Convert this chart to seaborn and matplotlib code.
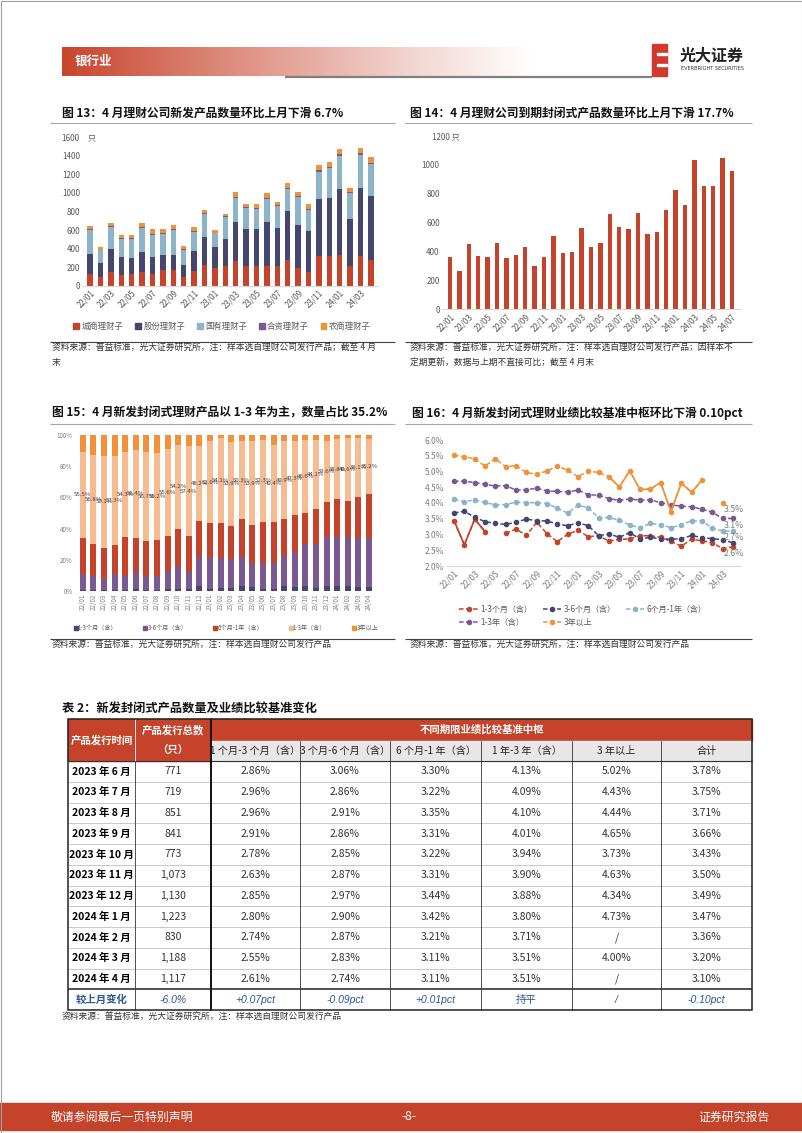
import numpy as np
import matplotlib
matplotlib.use('Agg')
import matplotlib.pyplot as plt
import seaborn as sns
from matplotlib.patches import Rectangle
from matplotlib.lines import Line2D
from matplotlib.colors import to_rgb

sns.set_theme(style='white')
plt.rcParams['font.family'] = ['Noto Sans CJK SC', 'DejaVu Sans']
plt.rcParams['axes.unicode_minus'] = False

W, H = 802, 1133

RED = '#C5432A'
NAVY = '#44466E'
BLUE = '#8DB3C7'
PURPLE = '#7A5891'
ORANGE = '#F0923B'
PEACH = '#F6BC91'
TXT = '#595959'

# ---------------- data ----------------
months28 = ['22/01', '22/02', '22/03', '22/04', '22/05', '22/06', '22/07', '22/08', '22/09', '22/10',
            '22/11', '22/12', '23/01', '23/02', '23/03', '23/04', '23/05', '23/06', '23/07', '23/08',
            '23/09', '23/10', '23/11', '23/12', '24/01', '24/02', '24/03', '24/04']
months31 = months28 + ['24/05', '24/06', '24/07']

# fig 13: new products by issuer type
issuer_names = ['城商理财子', '股份理财子', '国有理财子', '合资理财子', '农商理财子']
city = [126, 97, 151, 115, 122, 148, 130, 169, 169, 90, 158, 223, 187, 216, 263, 212, 212, 216, 216, 277,
        187, 151, 320, 320, 331, 212, 320, 274]
joint = [212, 144, 245, 198, 180, 219, 183, 166, 166, 130, 216, 306, 234, 284, 428, 396, 396, 475, 410, 533,
         468, 443, 620, 630, 713, 504, 731, 694]
state = [263, 144, 234, 187, 202, 252, 234, 219, 266, 165, 209, 241, 144, 238, 252, 227, 220, 241, 234, 230,
         299, 223, 291, 314, 356, 281, 360, 342]
jv = [15, 5, 14, 10, 10, 12, 14, 12, 14, 6, 12, 10, 8, 10, 14, 12, 12, 14, 10, 18, 14, 14, 16, 18, 20, 14, 22, 18]
rural = [28, 31, 36, 37, 33, 42, 47, 42, 44, 37, 42, 37, 28, 26, 51, 35, 42, 51, 34, 54, 44, 51, 53, 54, 52, 40,
         50, 58]

# fig 14: maturing closed-end products
matured = [364, 267, 451, 371, 359, 456, 355, 378, 431, 299, 359, 507, 392, 398, 562, 428, 456, 661, 571, 553,
           666, 520, 534, 686, 827, 718, 1034, 850, 850, 1043, 953]

# fig 15: share by term (%)
term_names = ['1-3个月（含）', '3-6个月（含）', '6个月-1年（含）', '1-3年（含）', '3年以上']
sh_1_3m = [0.5, 0.5, 0.5, 0.5, 0.5, 1.5, 0.5, 0.5, 1.0, 1.0, 1.0, 3.0, 1.5, 2.0, 2.0, 3.0, 2.5, 1.5, 1.5, 3.5,
           2.5, 3.0, 2.0, 3.5, 3.0, 3.0, 2.5, 2.5]
sh_3_6m = [10.4, 9.1, 7.2, 10.4, 9.1, 10.9, 9.1, 9.1, 11.8, 14.2, 11.4, 18.6, 19.4, 18.9, 18.3, 18.6, 15.2, 16.2,
           16.2, 19.1, 22.7, 27.1, 28.1, 31.3, 31.8, 31.8, 31.3, 31.3]
sh_6_12m = [22.9, 20.7, 19.9, 18.6, 25.2, 21.8, 22.5, 22.9, 22.7, 24.5, 22.9, 23.3, 22.5, 22.9, 21.4, 24.3, 24.4,
            26.7, 26.7, 23.6, 23.5, 20.1, 22.3, 22.0, 24.0, 22.9, 26.2, 28.2]
sh_1_3y = [55.5, 56.8, 59.1, 57.3, 54.3, 56.4, 56.7, 56.2, 55.6, 54.2, 57.4, 48.2, 52.6, 54.1, 53.9, 50.3, 53.9,
           52.3, 49.4, 49.9, 47.3, 46.6, 44.1, 39.6, 38.8, 40.6, 38.1, 35.2]
sh_3y = [10.7, 12.9, 13.3, 13.2, 10.9, 9.4, 11.2, 11.3, 8.9, 6.1, 7.3, 6.9, 4.0, 2.1, 4.4, 3.8, 4.0, 3.3, 6.2, 3.9,
         4.0, 3.2, 3.5, 3.6, 2.4, 1.7, 1.9, 2.8]

# fig 16: benchmark centre by term (%)
nan = np.nan
bm_1_3m = [3.44, 2.67, 3.49, 3.09, nan, 3.04, 3.17, 2.97, 3.39, 3.03, 2.77, 3.01, 3.13, 2.93, 2.96, 2.79, 2.85,
           2.86, 2.96, 2.96, 2.91, 2.78, 2.63, 2.85, 2.80, 2.74, 2.55, 2.61]
bm_3_6m = [3.68, 3.74, 3.54, 3.41, 3.35, 3.32, 3.39, 3.49, 3.44, 3.43, 3.33, 3.28, 3.37, 3.28, 2.96, 3.02, 2.91,
           3.06, 2.86, 2.91, 2.86, 2.85, 2.87, 2.97, 2.90, 2.87, 2.83, 2.74]
bm_6_12m = [4.12, 4.04, 4.10, 4.02, 3.94, 3.95, 4.03, 4.01, 4.01, 3.98, 3.84, 3.68, 3.93, 3.85, 3.53, 3.54, 3.45,
            3.30, 3.22, 3.35, 3.31, 3.22, 3.31, 3.44, 3.42, 3.21, 3.11, 3.11]
bm_1_3y = [4.69, 4.69, 4.65, 4.59, 4.54, 4.55, 4.41, 4.42, 4.47, 4.38, 4.37, 4.35, 4.41, 4.26, 4.25, 4.14, 4.08,
           4.13, 4.09, 4.10, 4.01, 3.94, 3.90, 3.88, 3.80, 3.71, 3.51, 3.51]
bm_3y = [5.51, 5.47, 5.40, 5.17, 5.41, 5.15, 5.19, 4.97, 4.91, 5.02, 5.17, 5.04, 4.84, 5.01, 4.97, 4.83, 4.51,
         5.02, 4.43, 4.44, 4.65, 3.73, 4.63, 4.34, 4.73, nan, 4.00, nan]
end_labels = ['2.6%', '2.7%', '3.1%', '3.5%']

# table 2
tbl_month = ['2023 年 6 月', '2023 年 7 月', '2023 年 8 月', '2023 年 9 月', '2023 年 10 月', '2023 年 11 月',
             '2023 年 12 月', '2024 年 1 月', '2024 年 2 月', '2024 年 3 月', '2024 年 4 月']
tbl_count = ['771', '719', '851', '841', '773', '1,073', '1,130', '1,223', '830', '1,188', '1,117']
tbl_1_3m = ['2.86%', '2.96%', '2.96%', '2.91%', '2.78%', '2.63%', '2.85%', '2.80%', '2.74%', '2.55%', '2.61%']
tbl_3_6m = ['3.06%', '2.86%', '2.91%', '2.86%', '2.85%', '2.87%', '2.97%', '2.90%', '2.87%', '2.83%', '2.74%']
tbl_6_12m = ['3.30%', '3.22%', '3.35%', '3.31%', '3.22%', '3.31%', '3.44%', '3.42%', '3.21%', '3.11%', '3.11%']
tbl_1_3y = ['4.13%', '4.09%', '4.10%', '4.01%', '3.94%', '3.90%', '3.88%', '3.80%', '3.71%', '3.51%', '3.51%']
tbl_3y = ['5.02%', '4.43%', '4.44%', '4.65%', '3.73%', '4.63%', '4.34%', '4.73%', '/', '4.00%', '/']
tbl_total = ['3.78%', '3.75%', '3.71%', '3.66%', '3.43%', '3.50%', '3.49%', '3.47%', '3.36%', '3.20%', '3.10%']
tbl_change = ['较上月变化', '-6.0%', '+0.07pct', '-0.09pct', '+0.01pct', '持平', '/', '-0.10pct']
tbl_sub = ['1 个月-3 个月（含）', '3 个月-6 个月（含）', '6 个月-1 年（含）', '1 年-3 年（含）', '3 年以上', '合计']

# ---------------- figure ----------------
fig = plt.figure(figsize=(W / 100, H / 100), dpi=100)
fig.patch.set_facecolor('white')

page = fig.add_axes([0, 0, 1, 1], zorder=0)
page.set_axis_off()


def px_axes(l, t, r, b):
    ax = fig.add_axes([l / W, 1 - b / H, (r - l) / W, (b - t) / H], zorder=2)
    ax.patch.set_alpha(0)
    return ax


def ptext(x, y, s, **kw):
    kw.setdefault('va', 'center')
    page.text(x, y, s, **kw)


def hline(x0, x1, y, color='#A6A6A6', lw=0.8):
    page.plot([x0, x1], [y, y], color=color, lw=lw, solid_capstyle='butt')


def style_axis(ax, fs, color=TXT):
    for s in ['top', 'right', 'left']:
        ax.spines[s].set_visible(False)
    ax.spines['bottom'].set_color('#D9D9D9')
    ax.spines['bottom'].set_linewidth(0.8)
    ax.tick_params(axis='both', labelsize=fs, colors=color, length=0, pad=2)
    ax.grid(False)


# header
grad = np.linspace(0, 1, 300)
img = np.zeros((1, 300, 4))
img[..., :3] = to_rgb('#C8442C')
img[..., 3] = (1 - grad) ** 1.1
page.imshow(img, extent=(62, 535, 76, 47), aspect='auto', zorder=1)
ptext(75, 61, '银行业', color='white', fontsize=9, fontweight='bold', zorder=3)
hline(285, 652, 76.5, color='#808080', lw=1.6)
page.add_patch(Rectangle((652, 44), 15, 32, color='#D0392B', zorder=3))
for yy in (53, 64):
    page.add_patch(Rectangle((657, yy), 10, 2, color='white', zorder=4))
ptext(680, 55, '光大证券', fontsize=11.5, fontweight='bold', color='#222222')
ptext(681, 69, 'EVERBRIGHT SECURITIES', fontsize=3.6, color='#333333', family=['DejaVu Sans'])

# chart titles
ptext(62, 113, '图 13：4 月理财公司新发产品数量环比上月下滑 6.7%', fontsize=8.5, fontweight='bold', color='#111111')
ptext(410, 113, '图 14：4 月理财公司到期封闭式产品数量环比上月下滑 17.7%', fontsize=8.5, fontweight='bold',
      color='#111111')
ptext(52, 413, '图 15：4 月新发封闭式理财产品以 1-3 年为主，数量占比 35.2%', fontsize=8.5, fontweight='bold',
      color='#111111')
ptext(412, 413, '图 16：4 月新发封闭式理财业绩比较基准中枢环比下滑 0.10pct', fontsize=8.5, fontweight='bold',
      color='#111111')
for x0, x1, y in [(50, 395, 123), (405, 752, 123), (50, 395, 424), (405, 752, 424)]:
    hline(x0, x1, y)

# source notes
for x0, x1, y in [(50, 395, 342), (405, 752, 342), (50, 395, 639), (405, 752, 639)]:
    hline(x0, x1, y, color='#404040', lw=0.8)
src = '资料来源：普益标准，光大证券研究所，注：样本选自理财公司发行产品'
ptext(52, 348.5, src + '；截至 4 月', fontsize=6.3, color='#333333')
ptext(52, 362, '末', fontsize=6.3, color='#333333')
ptext(410, 348.5, src + '；因样本不', fontsize=6.3, color='#333333')
ptext(410, 362, '定期更新，数据与上期不直接可比；截至 4 月末', fontsize=6.3, color='#333333')
ptext(52, 645, src, fontsize=6.3, color='#333333')
ptext(410, 645, src, fontsize=6.3, color='#333333')

# ---- fig 13: stacked bars ----
ax1 = px_axes(82.7, 137.3, 378.3, 285.7)
x28 = np.arange(28)
bottom = np.zeros(28)
h13 = []
for vals, col in zip([city, joint, state, jv, rural], [RED, NAVY, BLUE, PURPLE, ORANGE]):
    ax1.bar(x28, vals, bottom=bottom, width=0.52, color=col, linewidth=0)
    bottom += np.array(vals)
    h13.append(Rectangle((0, 0), 1, 1, color=col))
ax1.set_xlim(-0.7, 27.7)
ax1.set_ylim(0, 1600)
ax1.set_yticks(range(0, 1601, 200))
ax1.set_xticks(x28[::2])
ax1.set_xticklabels(months28[::2], rotation=45, ha='right', rotation_mode='anchor')
style_axis(ax1, 5.8)
ptext(88, 137.5, '只', fontsize=5.8, color=TXT)
fig.legend(h13, issuer_names, loc='center', bbox_to_anchor=(222 / W, 1 - 326 / H), ncol=5, frameon=False,
           fontsize=6, handlelength=0.7, handleheight=0.7, handletextpad=0.3, columnspacing=1.4,
           labelcolor=TXT)

# ---- fig 14: maturing bars ----
ax2 = px_axes(442.5, 135.7, 739.5, 309.3)
sns.barplot(x=months31, y=matured, color=RED, width=0.45, saturation=1, ax=ax2, linewidth=0)
ax2.set_xlim(-0.8, 30.8)
ax2.set_ylim(0, 1200)
ax2.set_yticks(range(0, 1201, 200))
ax2.set_yticklabels(['0', '200', '400', '600', '800', '1000', '1200 只'])
x31 = np.arange(31)
ax2.set_xticks(x31[::2])
ax2.set_xticklabels(months31[::2], rotation=45, ha='right', rotation_mode='anchor')
ax2.set_xlabel('')
ax2.set_ylabel('')
style_axis(ax2, 5.8)
for lab in ax2.get_yticklabels():
    if '只' in lab.get_text():
        lab.set_horizontalalignment('left')
        lab.set_x(-0.025)

# ---- fig 15: 100% stacked ----
ax3 = px_axes(75.3, 435, 376.4, 591)
bottom = np.zeros(28)
h15 = []
for vals, col in zip([sh_1_3m, sh_3_6m, sh_6_12m, sh_1_3y, sh_3y], [NAVY, PURPLE, RED, PEACH, ORANGE]):
    ax3.bar(x28, vals, bottom=bottom, width=0.57, color=col, linewidth=0)
    if vals is sh_1_3y:
        for xi, b, v in zip(x28, bottom, vals):
            ax3.text(xi, b + v / 2, f'{v:.1f}%', ha='center', va='center', fontsize=4.3, color='#404040')
    bottom += np.array(vals)
    h15.append(Line2D([], [], marker='s', ls='none', color=col, markersize=2.4))
ax3.set_xlim(-0.7, 27.7)
ax3.set_ylim(0, 100)
ax3.set_yticks(range(0, 101, 20))
ax3.set_yticklabels([f'{v}%' for v in range(0, 101, 20)])
ax3.set_xticks(x28)
ax3.set_xticklabels(months28, rotation=90)
style_axis(ax3, 4.5, color='#7F7F7F')
ax3.spines['bottom'].set_visible(False)
fig.legend(h15, term_names, loc='center', bbox_to_anchor=(226 / W, 1 - 628 / H), ncol=5, frameon=False,
           fontsize=4.4, handlelength=0.6, handletextpad=0.1, columnspacing=4.2, labelcolor=TXT)

# ---- fig 16: lines ----
ax4 = px_axes(446.8, 440, 740.2, 566)
series16 = [bm_1_3m, bm_3_6m, bm_6_12m, bm_1_3y, bm_3y]
cols16 = [RED, NAVY, BLUE, PURPLE, ORANGE]
solid16 = [(0, 4), None, None, None, (15, 25)]   # stretches drawn with a solid stroke
h16 = []
for vals, col, sol in zip(series16, cols16, solid16):
    ax4.plot(x28, vals, color=col, lw=1.1, ls=(0, (3, 1.6)), marker='o', markersize=3, zorder=3)
    if sol is not None:
        ax4.plot(x28[sol[0]:sol[1]], vals[sol[0]:sol[1]], color=col, lw=1.2, ls='-', zorder=3)
    h16.append(Line2D([], [], color=col, lw=1.1, ls=(0, (3, 1.6)), marker='o', markersize=3))
for vals, lab, dy in zip(series16[:4], end_labels, [-0.22, 0.16, 0.19, 0.27]):
    ax4.text(27 - 0.9, vals[-1] + dy, lab, fontsize=6.3, color='#7F7F7F', ha='left', va='center', zorder=4)
ax4.set_xlim(-0.7, 27.7)
ax4.set_ylim(2.0, 6.0)
ax4.set_yticks(np.arange(2.0, 6.01, 0.5))
ax4.set_yticklabels([f'{v:.1f}%' for v in np.arange(2.0, 6.01, 0.5)])
ax4.set_xticks(x28[::2])
ax4.set_xticklabels(months28[::2], rotation=45, ha='right', rotation_mode='anchor')
style_axis(ax4, 6, color='#7F7F7F')
order = [0, 3, 1, 4, 2]
fig.legend([h16[i] for i in order], [term_names[i] for i in order], loc='upper left',
           bbox_to_anchor=(452 / W, 1 - 598 / H), ncol=3, frameon=False, fontsize=5.8, handlelength=2.3,
           handletextpad=0.3, columnspacing=1.3, labelspacing=0.5, labelcolor=TXT)

# ---- table 2 ----
ptext(62, 709, '表 2：新发封闭式产品数量及业绩比较基准变化', fontsize=8.8, fontweight='bold', color='#111111')
ce = [68, 135, 211, 300, 390, 481, 572, 661, 752]
t_top, t_mid, t_bot = 719, 740.5, 761
row_h = 20.75
n_rows = len(tbl_month) + 1
t_end = t_bot + n_rows * row_h
page.add_patch(Rectangle((ce[0], t_top), ce[2] - ce[0], t_bot - t_top, color=RED, zorder=1))
page.add_patch(Rectangle((ce[2], t_top), ce[-1] - ce[2], t_mid - t_top, color=RED, zorder=1))
page.add_patch(Rectangle((ce[2], t_mid), ce[-1] - ce[2], t_bot - t_mid, color='#E7E7E7', zorder=1))
ptext((ce[0] + ce[1]) / 2, (t_top + t_bot) / 2, '产品发行时间', ha='center', color='white', fontsize=7.5,
      fontweight='bold', zorder=3)
ptext((ce[1] + ce[2]) / 2, 730, '产品发行总数', ha='center', color='white', fontsize=7.5, fontweight='bold', zorder=3)
ptext((ce[1] + ce[2]) / 2, 750.5, '（只）', ha='center', color='white', fontsize=7.5, fontweight='bold', zorder=3)
ptext((ce[2] + ce[-1]) / 2, 730, '不同期限业绩比较基准中枢', ha='center', color='white', fontsize=7.5,
      fontweight='bold', zorder=3)
for j, s in enumerate(tbl_sub):
    ptext((ce[j + 2] + ce[j + 3]) / 2, (t_mid + t_bot) / 2, s, ha='center', color='#222222', fontsize=7.3,
          zorder=3)
cols_tbl = [tbl_month, tbl_count, tbl_1_3m, tbl_3_6m, tbl_6_12m, tbl_1_3y, tbl_3y, tbl_total]
for i in range(len(tbl_month)):
    yc = t_bot + (i + 0.5) * row_h
    for j, col in enumerate(cols_tbl):
        if j == 0:
            ptext((ce[j] + ce[j + 1]) / 2, yc, col[i], ha='center', fontsize=7.5, fontweight='bold',
                  color='#000000', zorder=3)
        else:
            ptext((ce[j] + ce[j + 1]) / 2, yc, col[i], ha='center', fontsize=7.5, color='#333333', zorder=3)
yc = t_bot + (n_rows - 0.5) * row_h
for j, s in enumerate(tbl_change):
    ptext((ce[j] + ce[j + 1]) / 2, yc, s, ha='center', fontsize=7.5, color='#2E5597', style='italic',
          fontweight='bold' if j == 0 else 'normal', zorder=3,
          family=['Noto Sans CJK SC'] if j == 0 else ['Liberation Sans', 'Noto Sans CJK SC'])
# grid lines
for i in range(1, n_rows - 1):
    y = t_bot + i * row_h
    hline(ce[0], ce[-1], y, color='#BFBFBF', lw=0.6)
hline(ce[0], ce[-1], t_bot, color='#333333', lw=0.8)
hline(ce[0], ce[-1], t_bot + (n_rows - 1) * row_h, color='#222222', lw=1.1)
for k in range(3, 8):
    page.plot([ce[k], ce[k]], [t_mid, t_end], color='#333333', lw=0.6)
page.plot([ce[1], ce[1]], [t_top, t_bot], color='white', lw=0.6, zorder=2)
page.plot([ce[1], ce[1]], [t_bot, t_end], color='#333333', lw=0.6)
page.plot([ce[2], ce[2]], [t_top, t_end], color='#111111', lw=1.4)
page.add_patch(Rectangle((ce[0], t_top), ce[-1] - ce[0], t_end - t_top, fill=False, edgecolor='#222222', lw=1.1,
                         zorder=4))
ptext(62, 1017, src, fontsize=6.3, color='#333333')

# footer
page.add_patch(Rectangle((0, 1103), W, 27, color=RED, zorder=1))
ptext(51, 1117, '敬请参阅最后一页特别声明', fontsize=8.6, color='white', zorder=3)
ptext(409, 1117, '-8-', fontsize=8.6, color='white', ha='center', zorder=3)
ptext(698, 1117, '证券研究报告', fontsize=8.6, color='white', zorder=3)
page.add_patch(Rectangle((0.5, 0.5), W - 1, H - 1, fill=False, edgecolor='#A0A0A0', lw=0.8, zorder=5))

page.set_xlim(0, W)
page.set_ylim(H, 0)

fig.savefig('out.png', dpi=100)
